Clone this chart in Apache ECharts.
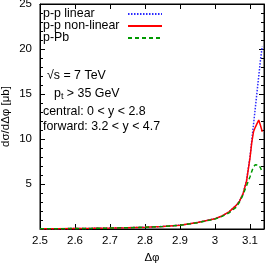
<!DOCTYPE html>
<html><head><meta charset="utf-8">
<script src="https://cdn.jsdelivr.net/npm/echarts@6/dist/echarts.min.js"></script>
<style>html,body{margin:0;padding:0;background:#fff}#c{width:265px;height:266px}</style>
</head><body><div id="c"></div>
<script>
const xVals = [2.5, 2.55, 2.6, 2.65, 2.7, 2.75, 2.8, 2.85, 2.9, 2.95, 3.0, 3.02, 3.04, 3.06, 3.07, 3.08, 3.09, 3.1, 3.105, 3.11, 3.115, 3.12, 3.125, 3.13, 3.135];
const ppLinear = [0.02, 0.03, 0.05, 0.07, 0.1, 0.14, 0.2, 0.28, 0.42, 0.72, 1.15, 1.45, 1.9, 2.6, 3.1, 3.9, 5.4, 8.0, 9.8, 11.6, 13.4, 15.2, 17.0, 18.8, 20.3];
const ppNonLinear = [0.02, 0.03, 0.05, 0.07, 0.1, 0.14, 0.2, 0.28, 0.42, 0.72, 1.15, 1.45, 1.9, 2.6, 3.1, 3.9, 5.3, 7.9, 9.6, 10.8, 11.3, 11.7, 12.1, 11.5, 10.8];
const pPb = [0.02, 0.03, 0.05, 0.07, 0.1, 0.14, 0.2, 0.28, 0.42, 0.7, 1.1, 1.4, 1.8, 2.4, 3.0, 3.8, 4.8, 5.8, 6.4, 6.9, 7.15, 7.2, 7.1, 6.8, 6.3];
const xTicks = ['2.5','2.6','2.7','2.8','2.9','3','3.1'];
const yTicks = ['5','10','15','20','25'];
const seriesNames = ['p-p linear', 'p-p non-linear', 'p-Pb'];

const font = 'Liberation Sans, Arial, sans-serif';
const tfs = 12.4;
const pairs = arr => xVals.map((x, i) => [x, arr[i]]);
const chart = echarts.init(document.getElementById('c'), null, {renderer: 'canvas'});
const tickStyle = {inside: true, length: 5, lineStyle: {color: '#000', width: 1}};
chart.setOption({
  animation: false,
  grid: {left: 40, top: 4, width: 224, height: 225, show: true, borderColor: '#000', borderWidth: 1,
    backgroundColor: 'transparent', containLabel: false, outerBoundsMode: 'none'},
  xAxis: [
    {
      type: 'value', min: 2.5, max: 3.14, interval: 0.1, position: 'bottom',
      axisLine: {show: true, onZero: false, lineStyle: {color: '#000'}},
      splitLine: {show: false},
      axisTick: tickStyle,
      axisLabel: {fontFamily: font, fontSize: 11.5, color: '#000', margin: 6,
        formatter: v => { const s = String(+(+v).toFixed(2)); return xTicks.includes(s) ? s : ''; }},
      name: 'Δφ', nameLocation: 'middle', nameGap: 23, nameMoveOverlap: false,
      nameTextStyle: {fontFamily: font, fontSize: 11.5, color: '#000'}
    },
    {
      type: 'value', min: 2.5, max: 3.14, interval: 0.1, position: 'top',
      axisLine: {show: true, onZero: false, lineStyle: {color: '#000'}},
      splitLine: {show: false},
      axisTick: tickStyle,
      axisLabel: {show: false}
    }
  ],
  yAxis: [
    {
      type: 'value', min: 0, max: 25, interval: 5, position: 'left',
      axisLine: {show: true, onZero: false, lineStyle: {color: '#000'}},
      splitLine: {show: false},
      axisTick: tickStyle,
      minorTick: {show: true, splitNumber: 5, length: 3, lineStyle: {color: '#000'}},
      minorSplitLine: {show: false},
      axisLabel: {fontFamily: font, fontSize: 11.5, color: '#000', margin: 8,
        formatter: v => yTicks.includes(String(v)) ? String(v) : ''},
      name: 'dσ/dΔφ [μb]', nameLocation: 'middle', nameGap: 28, nameMoveOverlap: false,
      nameTextStyle: {fontFamily: font, fontSize: 11.5, color: '#000'}
    },
    {
      type: 'value', min: 0, max: 25, interval: 5, position: 'right',
      axisLine: {show: true, onZero: false, lineStyle: {color: '#000'}},
      splitLine: {show: false},
      axisTick: tickStyle,
      minorTick: {show: true, splitNumber: 5, length: 3, lineStyle: {color: '#000'}},
      minorSplitLine: {show: false},
      axisLabel: {show: false}
    }
  ],
  legend: {
    orient: 'vertical', left: 43, top: 8, align: 'right', itemGap: 0,
    itemWidth: 34, itemHeight: 14, padding: 0,
    itemStyle: {opacity: 0},
    formatter: n => '{a|' + n + '}',
    textStyle: {fontFamily: font, fontSize: tfs, color: '#000',
      rich: {a: {width: 80, align: 'left', fontFamily: font, fontSize: tfs, color: '#000'}}},
    data: seriesNames
  },
  graphic: [
    {type: 'text', left: 47, top: 70, style: {text: '√s = 7 TeV', font: tfs + 'px ' + font, fill: '#000'}},
    {type: 'text', left: 54, top: 88, style: {text: 'p{s|t} > 35 GeV', font: tfs + 'px ' + font, fill: '#000',
      rich: {s: {fontSize: 9, fontFamily: font, padding: [5, 0, 0, 0]}}}},
    {type: 'text', left: 43, top: 106, style: {text: 'central: 0 < y < 2.8', font: tfs + 'px ' + font, fill: '#000'}},
    {type: 'text', left: 43, top: 121, style: {text: 'forward: 3.2 < y < 4.7', font: tfs + 'px ' + font, fill: '#000'}}
  ],
  series: [
    {name: seriesNames[0], type: 'line', data: pairs(ppLinear), showSymbol: false, symbol: 'none',
      lineStyle: {color: '#2a2aff', width: 1.5, type: [1.5, 1.5]}, itemStyle: {color: '#2a2aff'}},
    {name: seriesNames[1], type: 'line', data: pairs(ppNonLinear), showSymbol: false, symbol: 'none',
      lineStyle: {color: '#ff0000', width: 1.5, type: 'solid'}, itemStyle: {color: '#ff0000'}},
    {name: seriesNames[2], type: 'line', data: pairs(pPb), showSymbol: false, symbol: 'none',
      lineStyle: {color: '#009900', width: 1.5, type: [4, 3]}, itemStyle: {color: '#009900'}}
  ]
});
</script></body></html>
